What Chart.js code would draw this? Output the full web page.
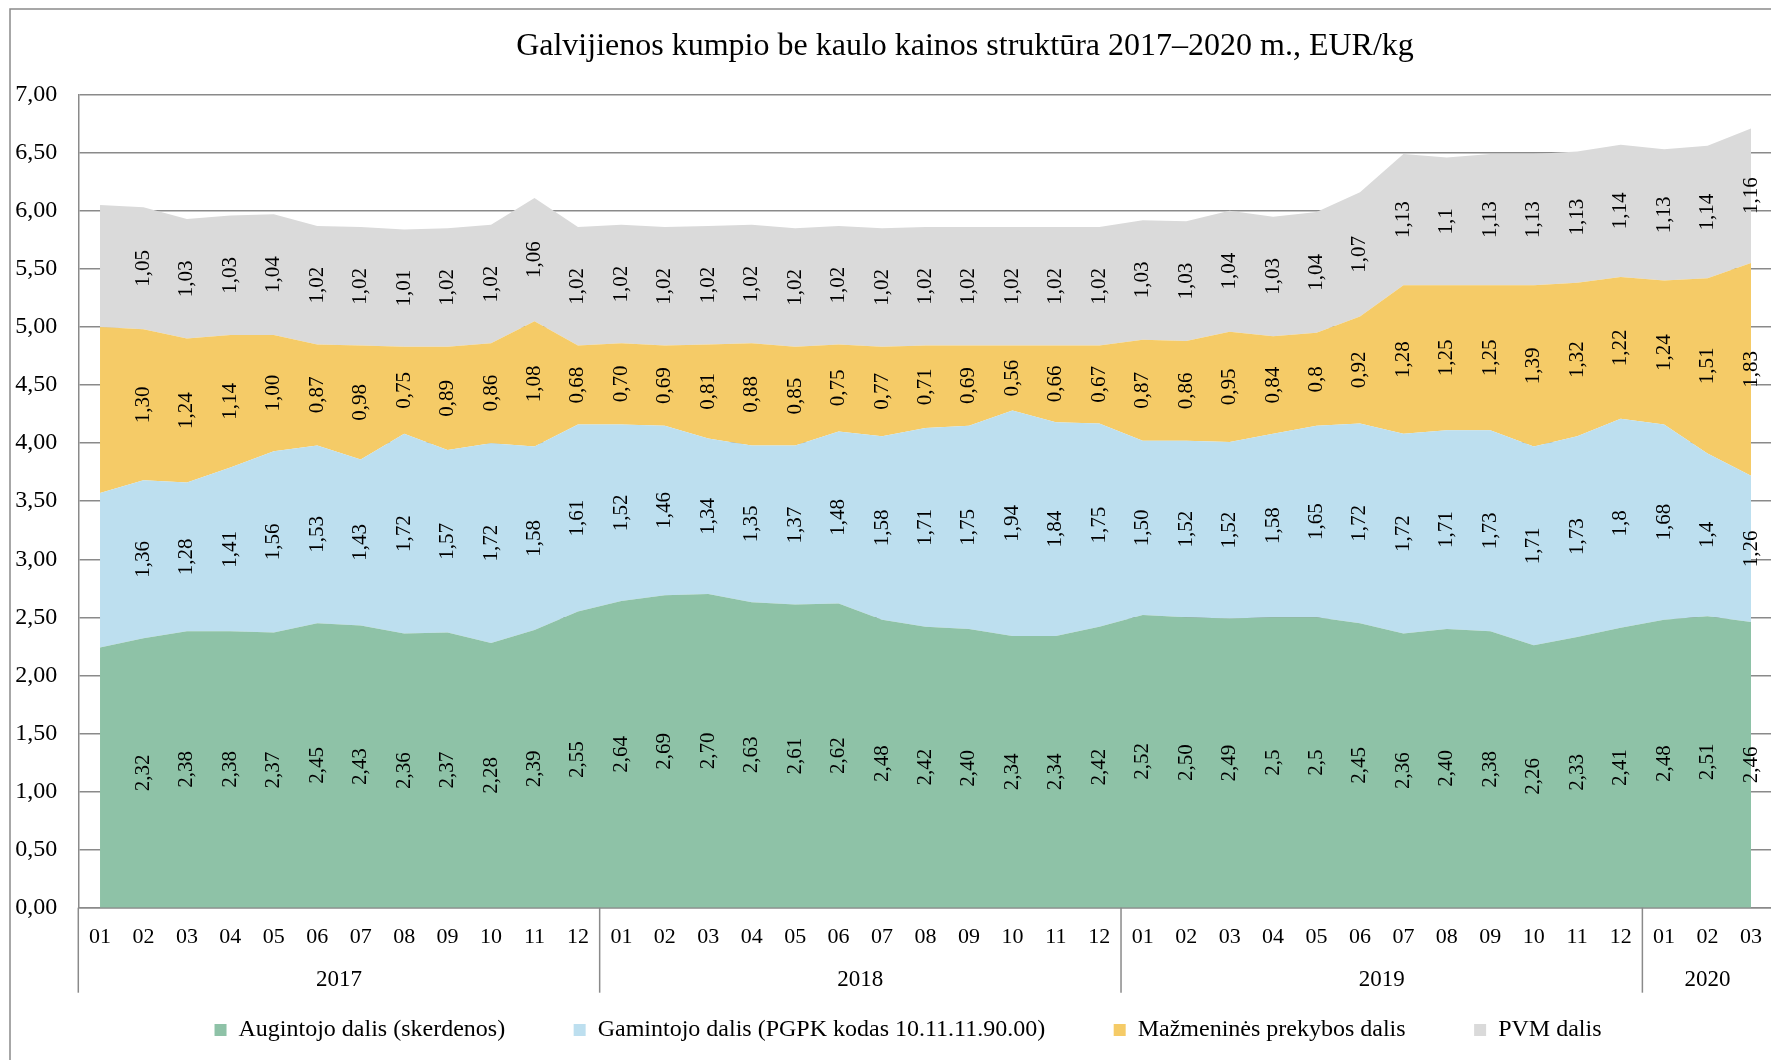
<!DOCTYPE html>
<html lang="lt">
<head>
<meta charset="utf-8">
<title>Galvijienos kumpio be kaulo kainos struktūra</title>
<script src="https://cdn.jsdelivr.net/npm/chart.js@4.4.1/dist/chart.umd.min.js"></script>
<style>
    html, body { margin: 0; padding: 0; background: #fff; overflow: hidden; }
    #wrap { position: absolute; left: 0; top: 0; width: 1778px; height: 1071px; }
</style>
</head>
<body>
<div id="wrap"><canvas id="priceChart"></canvas></div>
<script>
// Categories
const monthLabels = [
    '01','02','03','04','05','06','07','08','09','10','11','12',
    '01','02','03','04','05','06','07','08','09','10','11','12',
    '01','02','03','04','05','06','07','08','09','10','11','12',
    '01','02','03'
];
const yearLabels = ['2017', '2018', '2019', '2020'];
const yearMonths = [12, 12, 12, 3];

// Series values, EUR/kg
const farmerShare = [
    2.24, 2.32, 2.38, 2.38, 2.37, 2.45, 2.43, 2.36, 2.37, 2.28, 2.39, 2.55,
    2.64, 2.69, 2.70, 2.63, 2.61, 2.62, 2.48, 2.42, 2.40, 2.34, 2.34, 2.42,
    2.52, 2.50, 2.49, 2.5, 2.5, 2.45, 2.36, 2.40, 2.38, 2.26, 2.33, 2.41,
    2.48, 2.51, 2.46
];
const producerShare = [
    1.33, 1.36, 1.28, 1.41, 1.56, 1.53, 1.43, 1.72, 1.57, 1.72, 1.58, 1.61,
    1.52, 1.46, 1.34, 1.35, 1.37, 1.48, 1.58, 1.71, 1.75, 1.94, 1.84, 1.75,
    1.50, 1.52, 1.52, 1.58, 1.65, 1.72, 1.72, 1.71, 1.73, 1.71, 1.73, 1.8,
    1.68, 1.4, 1.26
];
const retailShare = [
    1.43, 1.30, 1.24, 1.14, 1.00, 0.87, 0.98, 0.75, 0.89, 0.86, 1.08, 0.68,
    0.70, 0.69, 0.81, 0.88, 0.85, 0.75, 0.77, 0.71, 0.69, 0.56, 0.66, 0.67,
    0.87, 0.86, 0.95, 0.84, 0.8, 0.92, 1.28, 1.25, 1.25, 1.39, 1.32, 1.22,
    1.24, 1.51, 1.83
];
const vatShare = [
    1.05, 1.05, 1.03, 1.03, 1.04, 1.02, 1.02, 1.01, 1.02, 1.02, 1.06, 1.02,
    1.02, 1.02, 1.02, 1.02, 1.02, 1.02, 1.02, 1.02, 1.02, 1.02, 1.02, 1.02,
    1.03, 1.03, 1.04, 1.03, 1.04, 1.07, 1.13, 1.1, 1.13, 1.13, 1.13, 1.14,
    1.13, 1.14, 1.16
];

// Labels written without the trailing zero in the original (per series)
const shortLabels = [[27, 28], [35, 37], [28], [31]];
const firstLabelled = 1;   // 2017-01 carries no value labels

const seriesNames = [
    'Augintojo dalis (skerdenos)',
    'Gamintojo dalis (PGPK kodas 10.11.11.90.00)',
    'Mažmeninės prekybos dalis',
    'PVM dalis'
];
const seriesColors = ['#8EC2A7', '#BDDFEF', '#F5CB67', '#DADADA'];

const serif = "'Liberation Serif', 'Times New Roman', serif";
const lineGray = '#8a8a8a';

function formatLabel(v, d, i) {
    const s = shortLabels[d].includes(i) ? String(v) : v.toFixed(2);
    return s.replace('.', ',');
}

// Frame, title and legend placement
const frameTitle = {
    id: 'frameTitle',
    afterLayout(chart) {
        // legend sits a little right of the canvas centre and closer to the axis
        const lg = chart.legend;
        const h = lg.bottom - lg.top;
        lg.top = 949.5;
        lg.bottom = lg.top + h;
        lg.left += 19;
        lg.right += 19;
    },
    beforeDraw(chart) {
        const ctx = chart.ctx;
        ctx.save();
        ctx.strokeStyle = lineGray;
        ctx.lineWidth = 1.5;
        ctx.beginPath();
        ctx.moveTo(10, chart.height + 5);
        ctx.lineTo(10, 9);
        ctx.lineTo(chart.width + 5, 9);
        ctx.stroke();
        ctx.restore();
    },
    afterDraw(chart) {
        const ctx = chart.ctx;
        ctx.save();
        ctx.font = `32px ${serif}`;
        ctx.fillStyle = '#000';
        ctx.textAlign = 'center';
        ctx.textBaseline = 'middle';
        ctx.fillText('Galvijienos kumpio be kaulo kainos struktūra 2017–2020 m., EUR/kg', 965, 47);
        ctx.restore();
    }
};

// Year row under the month labels
const yearAxis = {
    id: 'yearAxis',
    afterDraw(chart) {
        const ctx = chart.ctx;
        const xs = chart.scales.x;
        const bottom = chart.chartArea.bottom;
        const half = (xs.getPixelForValue(1) - xs.getPixelForValue(0)) / 2;
        ctx.save();
        ctx.strokeStyle = lineGray;
        ctx.lineWidth = 1.5;
        ctx.fillStyle = '#000';
        ctx.font = `23px ${serif}`;
        ctx.textAlign = 'center';
        ctx.textBaseline = 'middle';
        let start = 0;
        yearLabels.forEach((year, k) => {
            const end = start + yearMonths[k];
            const x0 = xs.getPixelForValue(start) - half;
            const x1 = xs.getPixelForValue(end - 1) + half;
            ctx.beginPath();
            ctx.moveTo(x0, bottom);
            ctx.lineTo(x0, bottom + 85);
            ctx.stroke();
            ctx.fillText(year, (x0 + x1) / 2, bottom + 72);
            start = end;
        });
        ctx.restore();
    }
};

// Rotated value labels centred in each band
const bandLabels = {
    id: 'bandLabels',
    afterDatasetsDraw(chart) {
        const ctx = chart.ctx;
        const zero = chart.scales.y.getPixelForValue(0);
        ctx.save();
        ctx.font = `21px ${serif}`;
        ctx.fillStyle = '#000';
        ctx.textAlign = 'center';
        ctx.textBaseline = 'middle';
        chart.data.datasets.forEach((ds, d) => {
            const meta = chart.getDatasetMeta(d);
            const below = d > 0 ? chart.getDatasetMeta(d - 1) : null;
            meta.data.forEach((pt, i) => {
                if (i < firstLabelled) return;
                const base = below ? below.data[i].y : zero;
                ctx.save();
                ctx.translate(pt.x, (pt.y + base) / 2);
                ctx.rotate(-Math.PI / 2);
                ctx.fillText(formatLabel(ds.data[i], d, i), 0, 0);
                ctx.restore();
            });
        });
        ctx.restore();
    }
};

const seriesData = [farmerShare, producerShare, retailShare, vatShare];

const ctx = document.getElementById('priceChart').getContext('2d');
new Chart(ctx, {
    type: 'line',
    data: {
        labels: monthLabels,
        datasets: seriesData.map((values, d) => ({
            label: seriesNames[d],
            data: values,
            backgroundColor: seriesColors[d],
            borderColor: seriesColors[d],
            borderWidth: 0,
            pointRadius: 0,
            tension: 0,
            fill: d === 0 ? 'origin' : '-1'
        }))
    },
    options: {
        responsive: true,
        maintainAspectRatio: false,
        animation: false,
        layout: {
            padding: { left: 0, right: 0, top: 94.7, bottom: 0.8 }
        },
        plugins: {
            title: { display: false },
            tooltip: { enabled: false },
            legend: {
                position: 'bottom',
                labels: {
                    boxWidth: 12,
                    boxHeight: 12,
                    padding: 68.5,
                    color: '#000',
                    font: { family: serif, size: 24 }
                }
            }
        },
        scales: {
            x: {
                offset: true,
                grid: { display: false, drawTicks: false },
                border: { display: true, color: lineGray, width: 1.5 },
                ticks: {
                    autoSkip: false,
                    maxRotation: 0,
                    padding: 16,
                    color: '#000',
                    font: { family: serif, size: 22 }
                },
                afterFit: scale => { scale.height = 60; }
            },
            y: {
                stacked: true,
                min: 0,
                max: 7,
                grid: { color: lineGray, lineWidth: 1.5, drawTicks: false },
                border: { display: true, color: lineGray, width: 1.5 },
                ticks: {
                    stepSize: 0.5,
                    padding: 21,
                    color: '#000',
                    font: { family: serif, size: 24 },
                    callback: v => v.toFixed(2).replace('.', ',')
                },
                afterFit: scale => { scale.width = 78.3; }
            }
        }
    },
    plugins: [frameTitle, yearAxis, bandLabels]
});
</script>
</body>
</html>
